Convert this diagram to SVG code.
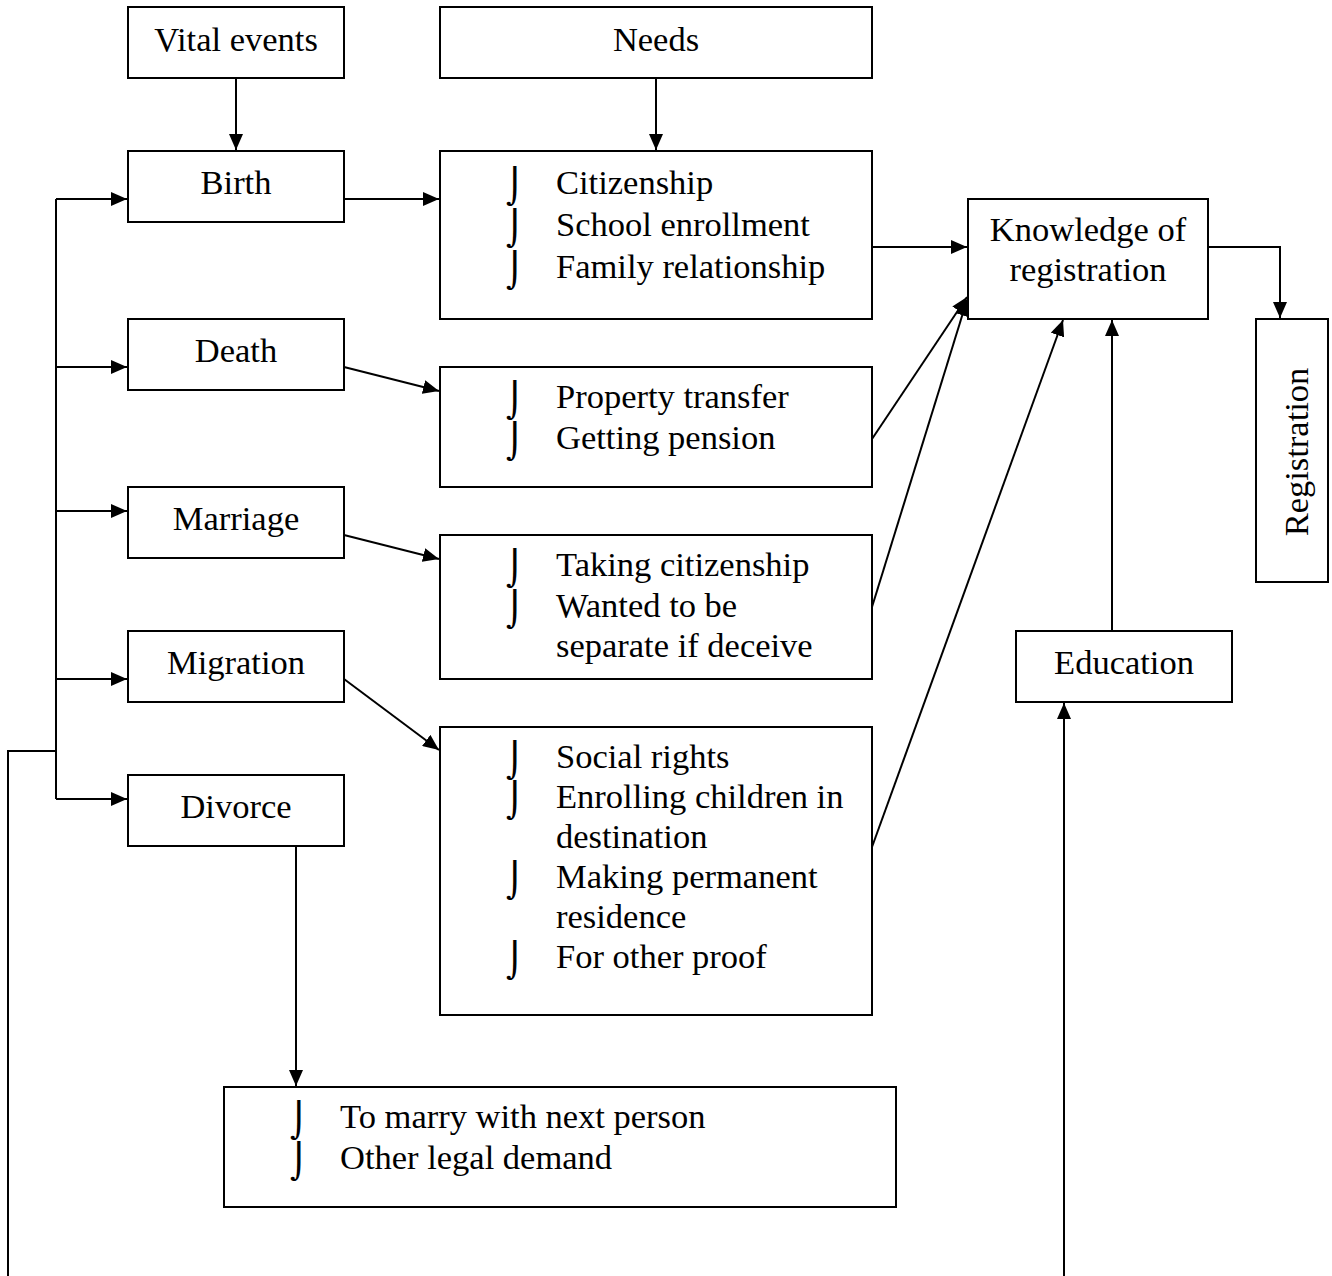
<svg xmlns="http://www.w3.org/2000/svg" width="1332" height="1276" viewBox="0 0 1332 1276">
<style>
.n{fill:#fff;stroke:#000;stroke-width:2}
.t{font-family:"Liberation Serif","Times New Roman",serif;font-size:34.5px;fill:#000}
.c{text-anchor:middle}
.b{font-family:"DejaVu Sans",sans-serif;font-size:34px;fill:#000}
.e line,.e polyline{stroke:#000;stroke-width:2;fill:none}
</style>
<defs>
<marker id="A" markerWidth="16" markerHeight="14" refX="16" refY="7" orient="auto" markerUnits="userSpaceOnUse">
<path d="M0,0 L16,7 L0,14 z" fill="#000"/>
</marker>
</defs>
<g class="e" id="connectors">
<line x1="236" y1="78" x2="236" y2="150" marker-end="url(#A)"/>
<line x1="656" y1="78" x2="656" y2="150" marker-end="url(#A)"/>
<line x1="344" y1="199" x2="439" y2="199" marker-end="url(#A)"/>
<line x1="56" y1="199" x2="56" y2="799"/>
<line x1="56" y1="199" x2="127" y2="199" marker-end="url(#A)"/>
<line x1="56" y1="367" x2="127" y2="367" marker-end="url(#A)"/>
<line x1="56" y1="511" x2="127" y2="511" marker-end="url(#A)"/>
<line x1="56" y1="679" x2="127" y2="679" marker-end="url(#A)"/>
<line x1="56" y1="799" x2="127" y2="799" marker-end="url(#A)"/>
<polyline points="8,1276 8,751 56,751"/>
<line x1="344" y1="367" x2="439" y2="391" marker-end="url(#A)"/>
<line x1="344" y1="535" x2="439" y2="559" marker-end="url(#A)"/>
<line x1="344" y1="679" x2="439" y2="750" marker-end="url(#A)"/>
<line x1="296" y1="846" x2="296" y2="1086" marker-end="url(#A)"/>
<line x1="872" y1="247" x2="967" y2="247" marker-end="url(#A)"/>
<line x1="872" y1="439" x2="967" y2="297" marker-end="url(#A)"/>
<line x1="872" y1="607" x2="967" y2="300" marker-end="url(#A)"/>
<line x1="872" y1="847" x2="1063" y2="320" marker-end="url(#A)"/>
<line x1="1112" y1="631" x2="1112" y2="320" marker-end="url(#A)"/>
<line x1="1064" y1="1276" x2="1064" y2="703" marker-end="url(#A)"/>
<polyline points="1208,247 1280,247 1280,318" marker-end="url(#A)"/>
</g>
<g id="vital"><rect class="n" x="128" y="7" width="216" height="71"/><text class="t c" x="236" y="51">Vital events</text></g>
<g id="needs"><rect class="n" x="440" y="7" width="432" height="71"/><text class="t c" x="656" y="51">Needs</text></g>
<g id="birth"><rect class="n" x="128" y="151" width="216" height="71"/><text class="t c" x="236" y="194">Birth</text></g>
<g id="death"><rect class="n" x="128" y="319" width="216" height="71"/><text class="t c" x="236" y="362">Death</text></g>
<g id="marriage"><rect class="n" x="128" y="487" width="216" height="71"/><text class="t c" x="236" y="530">Marriage</text></g>
<g id="migration"><rect class="n" x="128" y="631" width="216" height="71"/><text class="t c" x="236" y="674">Migration</text></g>
<g id="divorce"><rect class="n" x="128" y="775" width="216" height="71"/><text class="t c" x="236" y="818">Divorce</text></g>
<g id="needs-birth"><rect class="n" x="440" y="151" width="432" height="168"/>
<text class="b" x="506" y="198">⌡</text><text class="b" x="506" y="240">⌡</text><text class="b" x="506" y="282">⌡</text>
<text class="t" x="556" y="194">Citizenship</text><text class="t" x="556" y="236">School enrollment</text><text class="t" x="556" y="278">Family relationship</text></g>
<g id="needs-death"><rect class="n" x="440" y="367" width="432" height="120"/>
<text class="b" x="506" y="412">⌡</text><text class="b" x="506" y="453">⌡</text>
<text class="t" x="556" y="408">Property transfer</text><text class="t" x="556" y="449">Getting pension</text></g>
<g id="needs-marriage"><rect class="n" x="440" y="535" width="432" height="144"/>
<text class="b" x="506" y="580">⌡</text><text class="b" x="506" y="621">⌡</text>
<text class="t" x="556" y="576">Taking citizenship</text><text class="t" x="556" y="617">Wanted to be</text><text class="t" x="556" y="657">separate if deceive</text></g>
<g id="needs-migration"><rect class="n" x="440" y="727" width="432" height="288"/>
<text class="b" x="506" y="772">⌡</text><text class="b" x="506" y="812">⌡</text><text class="b" x="506" y="892">⌡</text><text class="b" x="506" y="972">⌡</text>
<text class="t" x="556" y="768">Social rights</text><text class="t" x="556" y="808">Enrolling children in</text><text class="t" x="556" y="848">destination</text><text class="t" x="556" y="888">Making permanent</text><text class="t" x="556" y="928">residence</text><text class="t" x="556" y="968">For other proof</text></g>
<g id="needs-divorce"><rect class="n" x="224" y="1087" width="672" height="120"/>
<text class="b" x="290" y="1132">⌡</text><text class="b" x="290" y="1173">⌡</text>
<text class="t" x="340" y="1128">To marry with next person</text><text class="t" x="340" y="1169">Other legal demand</text></g>
<g id="knowledge"><rect class="n" x="968" y="199" width="240" height="120"/>
<text class="t c" x="1088" y="241">Knowledge of</text><text class="t c" x="1088" y="281">registration</text></g>
<g id="registration"><rect class="n" x="1256" y="319" width="72" height="263"/>
<text class="t c" transform="translate(1308,452) rotate(-90)">Registration</text></g>
<g id="education"><rect class="n" x="1016" y="631" width="216" height="71"/><text class="t c" x="1124" y="674">Education</text></g>
</svg>
